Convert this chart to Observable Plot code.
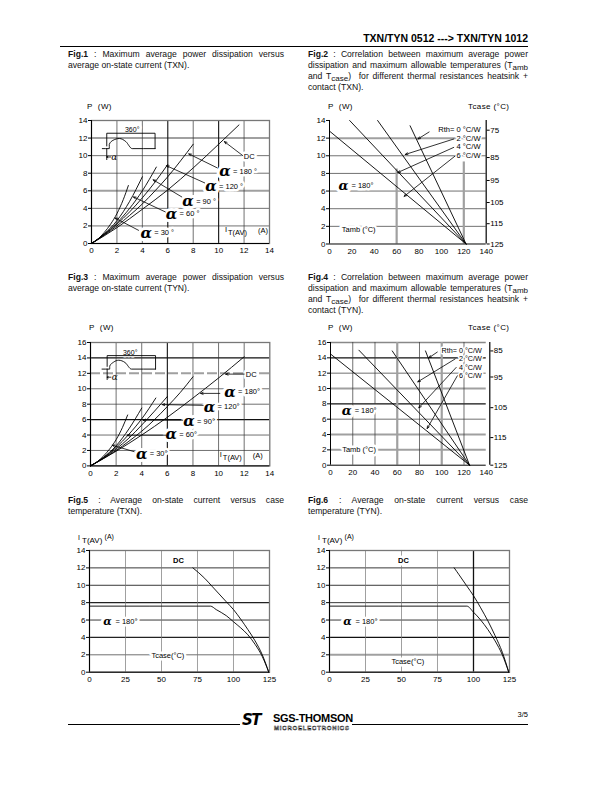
<!DOCTYPE html>
<html><head><meta charset="utf-8">
<script src="https://cdn.jsdelivr.net/npm/d3@7"></script>
<script src="https://cdn.jsdelivr.net/npm/@observablehq/plot@0.6"></script>
<style>
body{margin:0;background:#fff;}
#page{position:relative;width:612px;height:792px;background:#fff;font-family:"Liberation Sans",Arial,sans-serif;color:#000;overflow:hidden}
.abs{position:absolute;white-space:nowrap;line-height:1}
.cap{position:absolute;font-size:8.6px;line-height:11px;color:#111}
.cap div{text-align:justify;text-align-last:justify;white-space:nowrap}
.cap div.last{text-align-last:left}
.cap sub{font-size:8px;vertical-align:-2px;line-height:0}
.hl{position:absolute;height:1px;background:#000}
</style></head><body><div id="page"></div><script>
// ---------------- DATA ----------------
// Fig.1 (TXN) P(W) vs IT(AV)(A)
const f1x = [0,2,4,6,8,10,12,14];
const f1y = [0,2,4,6,8,10,12,14];
const f1_dc   = [[0,0],[2,1.8],[4,3.9],[6,6.1],[8,8.6],[10,11.3],[11.6,13.5]];
const f1_a180 = [[0,0],[1,0.95],[2,2.0],[3,3.2],[4,4.5],[5,6.0],[6,7.6],[7,9.4],[8,11.3]];
const f1_a120 = [[0,0],[1,1.0],[2,2.2],[3,3.6],[4,5.2],[5,7.0],[6,9.0]];
const f1_a90  = [[0,0],[1,1.05],[2,2.35],[3,4.0],[4,6.0],[5.1,8.7]];
const f1_a60  = [[0,0],[1,1.1],[2,2.6],[3,4.8],[4,7.6]];
const f1_a30  = [[0,0],[0.5,0.5],[1,1.25],[1.5,2.2],[2,3.4],[2.5,5.0],[2.9,6.6]];
const f1_wave = [[0.85,10.8],[1.4,10.8],[1.4,11.3],[1.7,11.75],[2.2,11.95],[2.7,11.6],[3.2,10.8],[5.0,10.8]];
const f1_brk  = [[1.2,11.1],[1.2,12.55],[5.0,12.55],[5.0,10.8]];
const f1_amark = [[1.2,10.8],[1.2,9.55]];
const f1_alpha = [{x:10.5,y:8.2,t:"= 180 °"},{x:9.4,y:6.5,t:"= 120 °"},{x:7.6,y:4.8,t:"= 90 °"},{x:6.3,y:3.35,t:"= 60 °"},{x:4.3,y:1.2,t:"= 30 °"}];
const f1_arrows = [{x1:11.9,y1:10.0,x2:10.45,y2:11.6},{x1:9.9,y1:8.6,x2:7.65,y2:10.2},{x1:8.9,y1:6.9,x2:5.9,y2:8.85},{x1:7.1,y1:5.3,x2:4.85,y2:7.25},{x1:5.8,y1:3.6,x2:3.3,y2:5.3},{x1:3.7,y1:1.5,x2:1.85,y2:2.9}];

// Fig.2 (TXN) P(W) vs Tamb, right axis Tcase
const f2x = [0,20,40,60,80,100,120,140];
const f2y = [0,2,4,6,8,10,12,14];
const f2_r0 = [[72,13.4],[122,0]];
const f2_r2 = [[43,14],[122,0]];
const f2_r4 = [[18,14],[122,0]];
const f2_r6 = [[0,12.8],[122,0]];
const f2_tcase = [75,85,95,105,115,125];
const f2_tcaseAt = [12.9,9.8,7.2,4.7,2.3,0];
const f2_rth = [{x:135,y:12.95,t:"Rth= 0 °C/W"},{x:135,y:11.95,t:"2 °C/W"},{x:135,y:11.0,t:"4 °C/W"},{x:135,y:10.0,t:"6 °C/W"}];
const f2_arrows = [{x1:89,y1:12.7,x2:79,y2:11.9},{x1:111,y1:11.9,x2:67.7,y2:10.15},{x1:111,y1:10.95,x2:61,y2:8.1},{x1:112,y1:9.95,x2:66.7,y2:5.4}];

// Fig.3 (TYN) P(W) vs IT(AV)(A)
const f3x = [0,2,4,6,8,10,12,14];
const f3y = [0,2,4,6,8,10,12,14,16];
const f3_dc   = [[0,0],[2,1.9],[4,4.0],[6,6.3],[8,8.8],[10,11.4],[12,14.15]];
const f3_a180 = [[0,0],[1,0.95],[2,2.0],[3,3.2],[4,4.5],[5,6.0],[6,7.7],[7,9.5],[8,11.55]];
const f3_a120 = [[0,0],[1,1.0],[2,2.2],[3,3.6],[4,5.3],[5,7.1],[6,9.0]];
const f3_a90  = [[0,0],[1,1.05],[2,2.4],[3,4.1],[4,6.1],[5.1,8.8]];
const f3_a60  = [[0,0],[1,1.1],[2,2.6],[3,4.8],[4,7.5]];
const f3_a30  = [[0,0],[0.5,0.5],[1,1.25],[1.5,2.2],[2,3.4],[2.5,5.0],[2.9,6.6]];
const f3_wave = [[0.9,12.55],[1.5,12.55],[1.5,12.95],[1.8,13.45],[2.2,13.7],[2.7,13.4],[3.2,12.55],[5.08,12.55]];
const f3_brk  = [[1.3,12.9],[1.3,14.3],[5.08,14.3],[5.08,12.55]];
const f3_amark = [[1.3,12.55],[1.3,11.2]];
const f3_alpha = [{x:10.9,y:9.6,t:"= 180°"},{x:9.3,y:7.66,t:"= 120°"},{x:7.7,y:5.8,t:"= 90°"},{x:6.3,y:4.07,t:"= 60°"},{x:4.0,y:1.55,t:"= 30°"}];
const f3_arrows = [{x1:12.0,y1:11.9,x2:10.55,y2:11.9},{x1:10.1,y1:9.4,x2:8.6,y2:9.4},{x1:8.8,y1:7.85,x2:5.6,y2:7.95},{x1:7.2,y1:5.93,x2:4.1,y2:5.93},{x1:5.9,y1:3.98,x2:2.86,y2:3.98},{x1:3.4,y1:1.85,x2:1.7,y2:2.68}];

// Fig.4 (TYN) P(W) vs Tamb, right axis Tcase
const f4x = [0,20,40,60,80,100,120,140];
const f4y = [0,2,4,6,8,10,12,14,16];
const f4_r0 = [[85.4,14.9],[125,0]];
const f4_r2 = [[55.5,14.9],[125,0]];
const f4_r4 = [[25.5,15.0],[125,0]];
const f4_r6 = [[0,14.5],[125,0]];
const f4_tcase = [85,95,105,115,125];
const f4_tcaseAt = [14.9,11.5,7.5,3.6,0];
const f4_rth = [{x:136,y:14.95,t:"Rth= 0 °C/W"},{x:136,y:13.85,t:"2 °C/W"},{x:136,y:12.75,t:"4 °C/W"},{x:136,y:11.65,t:"6 °C/W"}];
const f4_arrows = [{x1:96,y1:14.75,x2:88.4,y2:14.0},{x1:112,y1:13.85,x2:78.5,y2:10.87},{x1:113,y1:12.75,x2:79.4,y2:7.48},{x1:114,y1:11.65,x2:86.9,y2:4.78}];

// Fig.5 (TXN) IT(AV) vs Tcase
const f5x = [0,25,50,75,100,125];
const f5y = [0,2,4,6,8,10,12,14];
const f5_dc   = [[71.8,12.0],[80,10.8],[85,9.9],[90,9.0],[95,8.1],[100,7.2],[105,6.1],[110,4.9],[115,3.6],[120,2.0],[124.5,0]];
const f5_a180 = [[0,7.6],[84,7.6],[88,7.2],[95,6.5],[100,5.8],[105,5.1],[110,4.3],[115,3.2],[120,1.8],[124.5,0]];
// Fig.6 (TYN) IT(AV) vs Tcase
const f6x = [0,25,50,75,100,125];
const f6y = [0,2,4,6,8,10,12,14];
const f6_dc   = [[86.6,12.0],[90,11.2],[95,10.0],[100,8.8],[105,7.4],[110,5.9],[115,4.2],[120,2.3],[124.5,0]];
const f6_a180 = [[0,7.6],[95.4,7.6],[100,6.9],[105,6.0],[110,4.9],[115,3.6],[120,2.0],[124.5,0]];

// ---------------- DRAWING ----------------
const FONT = '"Liberation Sans", Arial, sans-serif';
const page = document.getElementById("page");
function div(cls, html, css){const d=document.createElement("div");d.className=cls;d.innerHTML=html;Object.assign(d.style,css);page.appendChild(d);return d;}

const M = {l:36,r:44,t:40,b:24};
function draw(c){
  const w = c.px[1]-c.px[0], h = c.py[0]-c.py[1];
  const svg = Plot.plot({
    width:w+M.l+M.r, height:h+M.t+M.b,
    marginLeft:M.l, marginRight:M.r, marginTop:M.t, marginBottom:M.b,
    x:{domain:c.xd}, y:{domain:c.yd},
    style:{fontFamily:FONT,fontSize:"8px",background:"none",overflow:"visible",color:"#000"},
    marks:c.marks
  });
  svg.style.position="absolute";svg.style.left=(c.px[0]-M.l)+"px";svg.style.top=(c.py[1]-M.t)+"px";
  page.appendChild(svg);
}
function label(data, o){
  const base = {x:"x",y:"y",text:"t",fontSize:7.5,textAnchor:"start",...o};
  return [Plot.text(data,{...base,fill:"white",stroke:"white",strokeWidth:o.halo ?? 5}), Plot.text(data,{...base,fill:"#000"})];
}
function alphaMarks(data, fs){
  return [
    ...label(data,{text:()=>"α",fontSize:fs||15,fontStyle:"italic",fontWeight:"bold",fontFamily:"DejaVu Serif",textAnchor:"middle",halo:6}),
    ...label(data,{dx:8,fontSize:7.5})
  ];
}
const curve = d => Plot.line(d,{stroke:"#000",strokeWidth:0.9,curve:"monotone-x"});
const seg = d => Plot.line(d,{stroke:"#000",strokeWidth:0.9});
const arrows = d => Plot.arrow(d,{x1:"x1",y1:"y1",x2:"x2",y2:"y2",stroke:"#000",strokeWidth:0.8,headLength:5,headAngle:45});
const axes = (xt, yt) => [
  Plot.axisX(xt,{tickSize:0,tickPadding:4,label:null,fontSize:8}),
  Plot.axisY(yt,{anchor:"left",tickSize:3,tickPadding:1,label:null,fontSize:8})
];
const frame = (x0,y0) => [Plot.frame({stroke:"#777",strokeWidth:1.3}), Plot.ruleX([x0],{stroke:"#000",strokeWidth:1}), Plot.ruleY([y0],{stroke:"#000",strokeWidth:1})];
const gThin = "#333", gGray = "#a0a0a0";
const itav = (x,y) => [
  Plot.text([0],{x:()=>x,y:()=>y,text:()=>"I",fontSize:7.5,textAnchor:"start",dy:-2}),
  Plot.text([0],{x:()=>x,y:()=>y,text:()=>"T(AV)",fontSize:7.5,textAnchor:"start",dx:3,dy:1}),
  Plot.text([0],{x:()=>x,y:()=>y,text:()=>"(A)",fontSize:7.5,textAnchor:"start",dx:33,dy:-1})
];

// Fig.1
draw({px:[91,269], py:[243,120], xd:[0,14], yd:[0,14], marks:[
  Plot.ruleY([2,4,8,10],{stroke:gThin,strokeWidth:0.7}),
  Plot.ruleY([6,12],{stroke:gGray,strokeWidth:2}),
  Plot.ruleX([2,4,8,12],{stroke:gThin,strokeWidth:0.7}),
  Plot.ruleX([6,10],{stroke:"#111",strokeWidth:1.1}),
  ...frame(0,0),
  ...label([{x:3.2,y:12.95,t:"360°"}],{textAnchor:"middle",fontSize:7}),
  ...label([{x:12.4,y:9.9,t:"DC"}],{textAnchor:"middle"}),
  ...alphaMarks(f1_alpha),
  ...itav(10.5,1.37),
  curve(f1_dc),curve(f1_a180),curve(f1_a120),curve(f1_a90),curve(f1_a60),curve(f1_a30),
  Plot.line(f1_wave,{stroke:"#000",strokeWidth:0.9,curve:"monotone-x"}),
  seg(f1_brk),seg(f1_amark),
  Plot.arrow([{x1:1.5,y1:9.85,x2:1.2,y2:9.85}],{x1:"x1",y1:"y1",x2:"x2",y2:"y2",stroke:"#000",strokeWidth:0.8,headLength:3}),
  ...label([{x:1.55,y:9.85,t:"α"}],{fontSize:9,fontStyle:"italic",fontFamily:"DejaVu Serif",halo:0}),
  arrows(f1_arrows),
  ...axes(f1x,f1y)
]});

// Fig.2
draw({px:[329.3,486], py:[243,119.5], xd:[0,140], yd:[0,14], marks:[
  Plot.ruleY([2,4,6,8,10],{stroke:gThin,strokeWidth:0.7}),
  Plot.ruleY([12],{stroke:gGray,strokeWidth:2}),
  Plot.ruleX([60],{y1:0,y2:8.5,stroke:gGray,strokeWidth:2.2}),
  Plot.ruleX([120],{y1:0,y2:9.3,stroke:gGray,strokeWidth:2.2}),
  Plot.ruleY([0],{stroke:"#000"}), Plot.ruleX([0],{stroke:"#000"}), Plot.ruleX([140],{stroke:"#000",strokeWidth:1.2}),
  ...label(f2_rth,{textAnchor:"end",fontSize:7.6,halo:3}),
  ...alphaMarks([{x:12.5,y:6.6,t:"= 180°"}],13),
  ...label([{x:11,y:1.67,t:"Tamb (°C)"}],{fontSize:7.5}),
  seg(f2_r0),seg(f2_r2),seg(f2_r4),seg(f2_r6),
  arrows(f2_arrows),
  ...axes(f2x,f2y),
  Plot.axisY(f2_tcaseAt,{anchor:"right",tickSize:3,tickPadding:1,label:null,fontSize:8,tickFormat:d=>f2_tcase[f2_tcaseAt.indexOf(d)]})
]});

// Fig.3
draw({px:[90,269.3], py:[465.7,342.3], xd:[0,14], yd:[0,16], marks:[
  Plot.ruleY([2,4,8,10],{stroke:gThin,strokeWidth:0.7}),
  Plot.ruleY([6,14],{stroke:"#111",strokeWidth:1.3}),
  Plot.ruleY([12],{stroke:gGray,strokeWidth:2,strokeDasharray:"10,3"}),
  Plot.ruleX([2,4,8,10,12],{stroke:gThin,strokeWidth:0.7}),
  Plot.ruleX([6],{stroke:"#111",strokeWidth:1.1}),
  ...frame(0,0),
  ...label([{x:3.1,y:14.7,t:"360°"}],{textAnchor:"middle",fontSize:7}),
  ...label([{x:12.55,y:11.9,t:"DC"}],{textAnchor:"middle"}),
  ...alphaMarks(f3_alpha),
  ...itav(10.1,1.17),
  curve(f3_dc),curve(f3_a180),curve(f3_a120),curve(f3_a90),curve(f3_a60),curve(f3_a30),
  Plot.line(f3_wave,{stroke:"#000",strokeWidth:0.9,curve:"monotone-x"}),
  seg(f3_brk),seg(f3_amark),
  Plot.arrow([{x1:1.6,y1:11.5,x2:1.3,y2:11.5}],{x1:"x1",y1:"y1",x2:"x2",y2:"y2",stroke:"#000",strokeWidth:0.8,headLength:3}),
  ...label([{x:1.65,y:11.5,t:"α"}],{fontSize:9,fontStyle:"italic",fontFamily:"DejaVu Serif",halo:0}),
  arrows(f3_arrows),
  ...axes(f3x,f3y)
]});

// Fig.4
draw({px:[330,489.3], py:[465,342.3], xd:[0,143.2], yd:[0,16], marks:[
  Plot.ruleY([6,12],{x1:0,x2:140,stroke:gThin,strokeWidth:0.7}),
  Plot.ruleY([8,14],{x1:0,x2:140,stroke:"#111",strokeWidth:1.1}),
  Plot.ruleY([2,4,10],{x1:0,x2:140,stroke:gGray,strokeWidth:2}),
  Plot.ruleY([16],{x1:0,x2:140,stroke:"#888",strokeWidth:1.3}),
  Plot.ruleX([20,40,80,120],{stroke:gThin,strokeWidth:0.7}),
  Plot.ruleX([60,100],{stroke:gGray,strokeWidth:2.2}),
  Plot.ruleY([0],{x1:0,x2:140,stroke:"#000"}), Plot.ruleX([0],{stroke:"#000"}), Plot.ruleX([143.2],{stroke:"#000",strokeWidth:1.2}),
  ...label(f4_rth,{textAnchor:"end",fontSize:7.2,halo:3}),
  ...alphaMarks([{x:14.5,y:7.1,t:"= 180°"}],13),
  ...label([{x:10.5,y:2.04,t:"Tamb (°C)"}],{fontSize:7.5}),
  seg(f4_r0),seg(f4_r2),seg(f4_r4),seg(f4_r6),
  arrows(f4_arrows),
  Plot.axisX(f4x,{tickSize:0,tickPadding:4,label:null,fontSize:8}),
  Plot.axisY(f4y,{anchor:"left",tickSize:3,tickPadding:1,label:null,fontSize:8}),
  Plot.axisY(f4_tcaseAt,{anchor:"right",tickSize:3,tickPadding:1,label:null,fontSize:8,tickFormat:d=>f4_tcase[f4_tcaseAt.indexOf(d)]})
]});

// Fig.5
draw({px:[89.3,269.3], py:[671.7,550], xd:[0,125], yd:[0,14], marks:[
  Plot.ruleY([2],{stroke:gThin,strokeWidth:0.7}),
  Plot.ruleY([6,10,12],{stroke:"#222",strokeWidth:0.9}),
  Plot.ruleY([4,8],{stroke:"#222",strokeWidth:1.3}),
  Plot.ruleX([25,50,75,100],{stroke:"#777",strokeWidth:0.7}),
  ...frame(0,0),
  ...label([{x:61.8,y:12.85,t:"DC"}],{textAnchor:"middle",fontWeight:"bold",fontSize:7.5}),
  ...alphaMarks([{x:12.5,y:5.83,t:"= 180°"}],11),
  ...label([{x:43,y:1.9,t:"Tcase(°C)"}],{fontSize:7.5}),
  curve(f5_dc), Plot.line(f5_a180,{stroke:"#000",strokeWidth:0.9,curve:"monotone-x"}),
  ...axes(f5x,f5y)
]});

// Fig.6
draw({px:[329.3,509.3], py:[671.7,550], xd:[0,125], yd:[0,14], marks:[
  Plot.ruleY([2],{stroke:gGray,strokeWidth:2}),
  Plot.ruleY([6,8,10,12],{stroke:"#222",strokeWidth:0.9}),
  Plot.ruleY([4],{stroke:"#111",strokeWidth:1.4}),
  Plot.ruleX([25,50,75],{stroke:"#777",strokeWidth:0.7}),
  Plot.ruleX([100],{stroke:"#111",strokeWidth:1.3}),
  ...frame(0,0),
  ...label([{x:51.4,y:12.85,t:"DC"}],{textAnchor:"middle",fontWeight:"bold",fontSize:7.5}),
  ...alphaMarks([{x:12.5,y:5.83,t:"= 180°"}],11),
  ...label([{x:43,y:1.23,t:"Tcase(°C)"}],{fontSize:7.5}),
  curve(f6_dc), Plot.line(f6_a180,{stroke:"#000",strokeWidth:0.9,curve:"monotone-x"}),
  ...axes(f6x,f6y)
]});

// ---------------- TEXT ----------------
div("abs","TXN/TYN 0512 ---&gt; TXN/TYN 1012",{right:(612-528)+"px",top:"33px",fontSize:"10.5px",fontWeight:"bold"});
div("hl","",{left:"60px",width:"468px",top:"46px",height:"1.2px"});
function caption(lines,left,top,width){
  const html = lines.map((l,i)=>`<div class="${i===lines.length-1?'last':''}">${l}</div>`).join("");
  div("cap",html,{left:left+"px",top:top+"px",width:width+"px"});
}
caption(["<b>Fig.1</b> : Maximum average power dissipation versus","average on-state current (TXN)."],68,48.5,216);
caption(["<b>Fig.2</b> : Correlation between maximum average power","dissipation and maximum allowable temperatures (T<sub>amb</sub>","and T<sub>case</sub>)&nbsp; for different thermal resistances heatsink +","contact (TXN)."],308,48.5,220);
caption(["<b>Fig.3</b> : Maximum average power dissipation versus","average on-state current (TYN)."],68,271.5,216);
caption(["<b>Fig.4</b> : Correlation between maximum average power","dissipation and maximum allowable temperatures (T<sub>amb</sub>","and T<sub>case</sub>)&nbsp; for different thermal resistances heatsink +","contact (TYN)."],308,271.5,220);
caption(["<b>Fig.5</b> : Average on-state current versus case","temperature (TXN)."],68,494.5,216);
caption(["<b>Fig.6</b> : Average on-state current versus case","temperature (TYN)."],308,494.5,220);

// axis titles
const at = (html,l,t) => div("abs",html,{left:l+"px",top:t+"px",fontSize:"8px",letterSpacing:"0.4px"});
at("P &nbsp;(W)",87,103); at("P &nbsp;(W)",328,103); at("Tcase (°C)",468,103);
at("P &nbsp;(W)",89,324); at("P &nbsp;(W)",328,324); at("Tcase (°C)",468,324);
const it = (l,t) => div("abs",`<span style="font-size:7px;vertical-align:3px">I</span><span style="font-size:8px"> T(AV)</span> <span style="font-size:7px;vertical-align:4px">(A)</span>`,{left:l+"px",top:t+"px",fontSize:"8px"});
it(78,533); it(318,533);

// footer
div("hl","",{left:"68px",width:"172px",top:"723.5px"});
div("hl","",{left:"352px",width:"176px",top:"723.5px"});
div("abs","<i>ST</i>",{left:"242px",top:"713px",fontSize:"15px",fontWeight:"bold",letterSpacing:"-1.5px",fontFamily:"DejaVu Sans"});
div("abs","SGS-THOMSON",{left:"273px",top:"713px",fontSize:"11px",fontWeight:"bold",letterSpacing:"-0.3px"});
div("abs","MICROELECTRONICS",{left:"274px",top:"725px",fontSize:"6px",fontWeight:"bold",color:"#fff",webkitTextStroke:"0.4px #000",letterSpacing:"0.8px"});
div("abs","3/5",{right:(612-528)+"px",top:"711px",fontSize:"7.5px"});
</script></body></html>
